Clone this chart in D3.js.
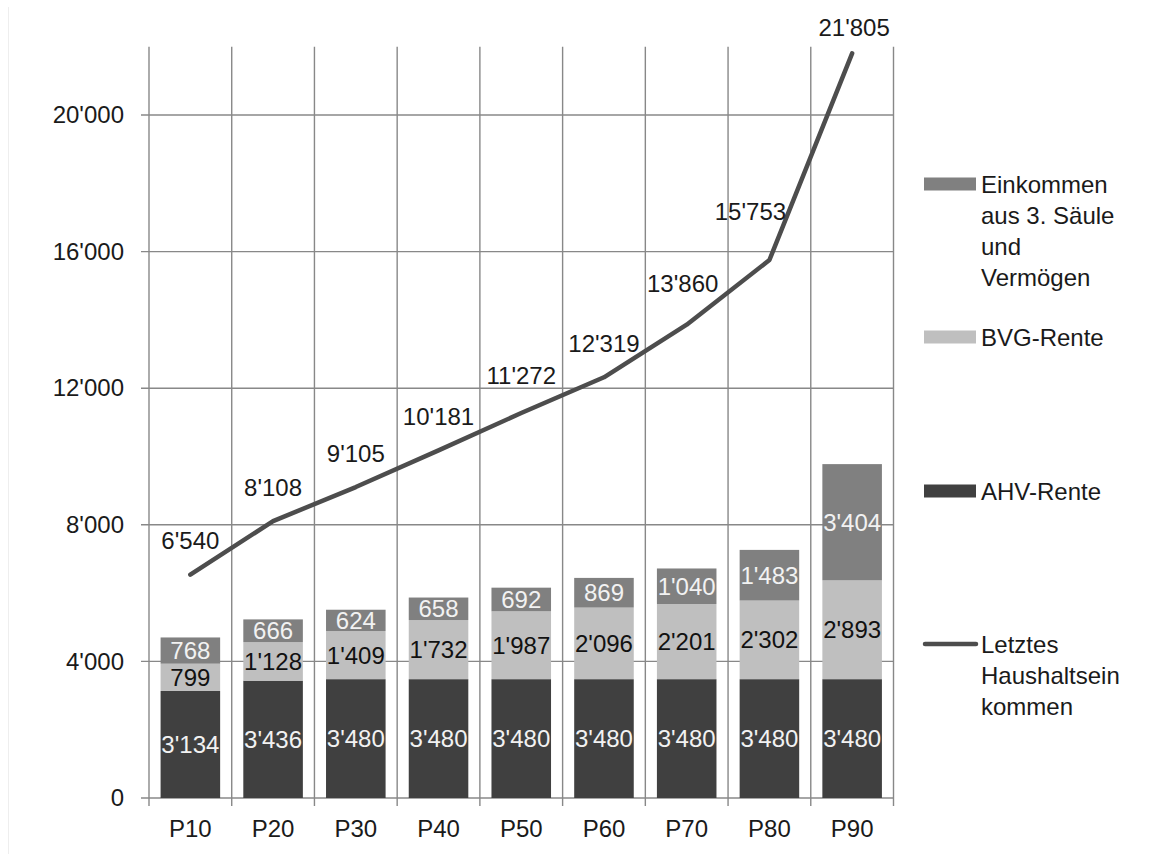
<!DOCTYPE html>
<html>
<head>
<meta charset="utf-8">
<script src="https://cdn.jsdelivr.net/npm/d3@7"></script>
<style>
  html, body { margin: 0; padding: 0; background: #fff; }
  svg { display: block; }
  text { font-family: "Liberation Sans", Arial, Helvetica, sans-serif; }
</style>
</head>
<body>
<svg id="chart" width="1169" height="854"></svg>
<script>
// Income percentiles of retired households (monthly, CHF)
const categories = ["P10", "P20", "P30", "P40", "P50", "P60", "P70", "P80", "P90"];
const ahvRente   = [3134, 3436, 3480, 3480, 3480, 3480, 3480, 3480, 3480];
const bvgRente   = [799, 1128, 1409, 1732, 1987, 2096, 2201, 2302, 2893];
const saeule3    = [768, 666, 624, 658, 692, 869, 1040, 1483, 3404];
const letztesEinkommen = [6540, 8108, 9105, 10181, 11272, 12319, 13860, 15753, 21805];
const yTicks = [0, 4000, 8000, 12000, 16000, 20000];

(function drawChart() {
  const svg = d3.select("#chart");
  const FONT = 24;
  const gridColor = "#888888";
  const colors = { ahv: "#404040", bvg: "#bfbfbf", s3: "#808080", line: "#4d4d4d" };

  const plotLeft = 149, plotRight = 893.5, plotBottom = 798, plotTop = 46.7;

  const x = d3.scaleBand().domain(categories).range([plotLeft, plotRight])
    .paddingInner(0.28).paddingOuter(0.14);
  const y = d3.scaleLinear().domain([0, 22000]).range([plotBottom, plotTop]);

  const fmt = v => d3.format(",")(v).replace(/,/g, "'");

  // faint frame line at the left edge
  svg.append("line").attr("x1", 8.5).attr("x2", 8.5).attr("y1", 7).attr("y2", 854)
    .attr("stroke", "#eeeeee").attr("stroke-width", 1);

  // grid
  const grid = svg.append("g");
  const step = x.step();
  const bounds = d3.range(categories.length + 1).map(i => plotLeft + i * step);
  grid.selectAll("line.v").data(bounds).join("line").attr("class", "v")
    .attr("x1", d => d).attr("x2", d => d)
    .attr("y1", plotTop).attr("y2", plotBottom + 8)
    .attr("stroke", gridColor).attr("stroke-width", 1.4);
  grid.selectAll("line.h").data(yTicks).join("line").attr("class", "h")
    .attr("x1", plotLeft - 8).attr("x2", plotRight)
    .attr("y1", d => y(d)).attr("y2", d => y(d))
    .attr("stroke", gridColor).attr("stroke-width", 1.4);

  // y axis labels
  const yAxis = d3.axisLeft(y).tickValues(yTicks).tickFormat(fmt).tickSize(0).tickPadding(0);
  const gy = svg.append("g").attr("transform", `translate(${plotLeft - 25},0)`).call(yAxis);
  gy.select(".domain").remove();
  gy.selectAll("text").attr("font-size", FONT).attr("fill", "#1a1a1a")
    .attr("font-family", "Liberation Sans, Arial, sans-serif");

  // x axis labels
  const xAxis = d3.axisBottom(x).tickSize(0).tickPadding(0);
  const gx = svg.append("g").attr("transform", `translate(0,${plotBottom + 22})`).call(xAxis);
  gx.select(".domain").remove();
  gx.selectAll("text").attr("font-size", FONT).attr("fill", "#1a1a1a")
    .attr("font-family", "Liberation Sans, Arial, sans-serif");

  // stacked bars
  const rows = categories.map((c, i) => ({ cat: c, ahv: ahvRente[i], bvg: bvgRente[i], s3: saeule3[i] }));
  const keys = ["ahv", "bvg", "s3"];
  const stack = d3.stack().keys(keys)(rows);
  const labelColor = { ahv: "#f2f2f2", bvg: "#111111", s3: "#f2f2f2" };

  const layers = svg.append("g").selectAll("g").data(stack).join("g")
    .attr("fill", d => colors[d.key]);
  layers.selectAll("rect").data(d => d).join("rect")
    .attr("x", d => x(d.data.cat))
    .attr("width", x.bandwidth())
    .attr("y", d => y(d[1]))
    .attr("height", d => y(d[0]) - y(d[1]));

  const segLabels = svg.append("g");
  stack.forEach(layer => {
    segLabels.append("g").selectAll("text").data(layer).join("text")
      .attr("x", d => x(d.data.cat) + x.bandwidth() / 2)
      .attr("y", d => (y(d[0]) + y(d[1])) / 2)
      .attr("dy", "0.36em")
      .attr("text-anchor", "middle")
      .attr("font-size", FONT)
      .attr("fill", labelColor[layer.key])
      .text(d => fmt(d[1] - d[0]));
  });

  // line series
  const pts = categories.map((c, i) => ({ cat: c, v: letztesEinkommen[i] }));
  const line = d3.line().x(d => x(d.cat) + x.bandwidth() / 2).y(d => y(d.v));
  svg.append("path").datum(pts)
    .attr("d", line)
    .attr("fill", "none")
    .attr("stroke", colors.line)
    .attr("stroke-width", 4.5)
    .attr("stroke-linecap", "round")
    .attr("stroke-linejoin", "round");

  // line value labels, sitting above each point
  const nudge = { 4: [0, -4], 6: [-4, -7], 7: [-19, -15], 8: [2, 8] };
  svg.append("g").selectAll("text").data(pts).join("text")
    .attr("x", (d, i) => x(d.cat) + x.bandwidth() / 2 + (nudge[i] ? nudge[i][0] : 0))
    .attr("y", (d, i) => y(d.v) - 34 + (nudge[i] ? nudge[i][1] : 0))
    .attr("dy", "0.36em")
    .attr("text-anchor", "middle")
    .attr("font-size", FONT)
    .attr("fill", "#1a1a1a")
    .text(d => fmt(d.v));

  // legend
  const lg = svg.append("g");
  const legendItems = [
    { type: "rect", color: colors.s3, lines: ["Einkommen", "aus 3. Säule", "und", "Vermögen"], cy: 184 },
    { type: "rect", color: colors.bvg, lines: ["BVG-Rente"], cy: 337 },
    { type: "rect", color: colors.ahv, lines: ["AHV-Rente"], cy: 491 },
    { type: "line", color: colors.line, lines: ["Letztes", "Haushaltsein", "kommen"], cy: 644 }
  ];
  legendItems.forEach(it => {
    if (it.type === "rect") {
      lg.append("rect").attr("x", 924).attr("y", it.cy - 6.5).attr("width", 52).attr("height", 13)
        .attr("fill", it.color);
    } else {
      lg.append("line").attr("x1", 925).attr("x2", 976).attr("y1", it.cy).attr("y2", it.cy)
        .attr("stroke", it.color).attr("stroke-width", 4.5).attr("stroke-linecap", "round");
    }
    const t = lg.append("text").attr("x", 981).attr("y", it.cy)
      .attr("font-size", FONT).attr("fill", "#1a1a1a");
    it.lines.forEach((s, j) => {
      t.append("tspan").attr("x", 981).attr("dy", j === 0 ? "0.36em" : 31).text(s);
    });
  });
})();
</script>
</body>
</html>
